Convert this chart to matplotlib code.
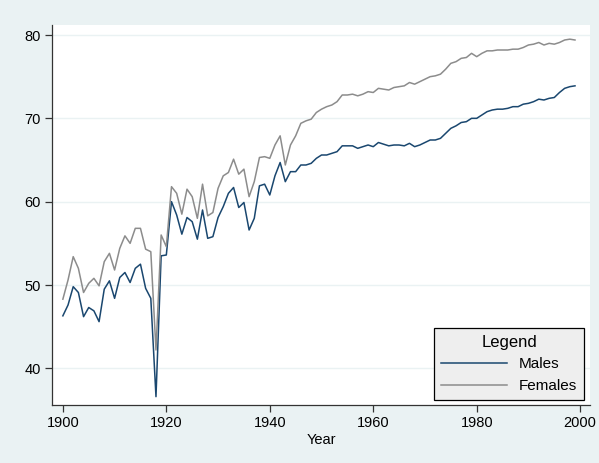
import numpy as np
import matplotlib
matplotlib.use('Agg')
import matplotlib.pyplot as plt

# DATOS
years = np.arange(1900, 2000)
le_male = [46.3, 47.6, 49.8, 49.1, 46.2, 47.3, 46.9, 45.6, 49.5, 50.5,
           48.4, 50.9, 51.5, 50.3, 52.0, 52.5, 49.6, 48.4, 36.6, 53.5,
           53.6, 60.0, 58.4, 56.1, 58.1, 57.6, 55.5, 59.0, 55.6, 55.8,
           58.1, 59.4, 61.0, 61.7, 59.3, 59.9, 56.6, 58.0, 61.9, 62.1,
           60.8, 63.1, 64.7, 62.4, 63.6, 63.6, 64.4, 64.4, 64.6, 65.2,
           65.6, 65.6, 65.8, 66.0, 66.7, 66.7, 66.7, 66.4, 66.6, 66.8,
           66.6, 67.1, 66.9, 66.7, 66.8, 66.8, 66.7, 67.0, 66.6, 66.8,
           67.1, 67.4, 67.4, 67.6, 68.2, 68.8, 69.1, 69.5, 69.6, 70.0,
           70.0, 70.4, 70.8, 71.0, 71.1, 71.1, 71.2, 71.4, 71.4, 71.7,
           71.8, 72.0, 72.3, 72.2, 72.4, 72.5, 73.1, 73.6, 73.8, 73.9]
le_female = [48.3, 50.6, 53.4, 52.0, 49.1, 50.2, 50.8, 49.9, 52.8, 53.8,
             51.8, 54.4, 55.9, 55.0, 56.8, 56.8, 54.3, 54.0, 42.2, 56.0,
             54.6, 61.8, 61.0, 58.5, 61.5, 60.6, 58.0, 62.1, 58.3, 58.7,
             61.6, 63.1, 63.5, 65.1, 63.3, 63.9, 60.6, 62.4, 65.3, 65.4,
             65.2, 66.8, 67.9, 64.4, 66.8, 67.9, 69.4, 69.7, 69.9, 70.7,
             71.1, 71.4, 71.6, 72.0, 72.8, 72.8, 72.9, 72.7, 72.9, 73.2,
             73.1, 73.6, 73.5, 73.4, 73.7, 73.8, 73.9, 74.3, 74.1, 74.4,
             74.7, 75.0, 75.1, 75.3, 75.9, 76.6, 76.8, 77.2, 77.3, 77.8,
             77.4, 77.8, 78.1, 78.1, 78.2, 78.2, 78.2, 78.3, 78.3, 78.5,
             78.8, 78.9, 79.1, 78.8, 79.0, 78.9, 79.1, 79.4, 79.5, 79.4]
xticks = [1900, 1920, 1940, 1960, 1980, 2000]
yticks = [40, 50, 60, 70, 80]

plt.rcParams['font.family'] = ['Liberation Sans', 'DejaVu Sans']

# FIGURA
fig = plt.figure(figsize=(5.99, 4.63), dpi=100)
fig.patch.set_facecolor('#eaf2f3')
ax = fig.add_axes([52/599, 1 - 405/463, 538/599, 380/463])
ax.set_facecolor('white')

ax.plot(years, le_male, color='#1a476f', lw=1.1, label='Males')
ax.plot(years, le_female, color='#8c8c8c', lw=1.1, label='Females')

ax.set_xlim(1897.9, 2001.9)
ax.set_ylim(35.6, 81.2)
ax.set_xticks(xticks)
ax.set_yticks(yticks)
ax.grid(axis='y', color='#eaf2f3', lw=1.0)
ax.set_axisbelow(True)
for s in ['top', 'right']:
    ax.spines[s].set_visible(False)
for s in ['left', 'bottom']:
    ax.spines[s].set_color('#333333')
    ax.spines[s].set_linewidth(0.9)
ax.tick_params(direction='out', length=5, width=0.9, color='#333333',
               labelsize=10.5, pad=3)
ax.set_xlabel('Year', fontsize=10.5, labelpad=2)

# LEYENDA
leg = ax.legend(title='Legend', loc='lower right', bbox_to_anchor=(584/599, 1 - 400/463),
                bbox_transform=fig.transFigure, fontsize=11, title_fontsize=12,
                fancybox=False, frameon=True, handlelength=4.3,
                borderpad=0.45, labelspacing=0.5, borderaxespad=0)
leg.get_frame().set_facecolor('#eeeeee')
leg.get_frame().set_edgecolor('black')
leg.get_frame().set_alpha(1)
leg.get_frame().set_linewidth(0.9)

fig.savefig('out.png', dpi=100, facecolor=fig.get_facecolor())
